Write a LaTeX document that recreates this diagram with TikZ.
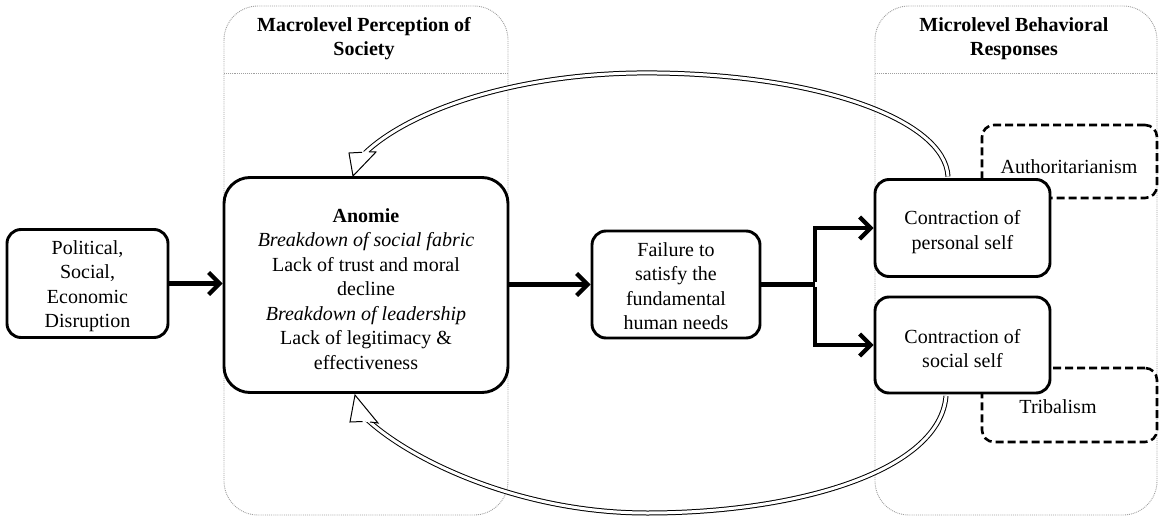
\documentclass[tikz,border=0pt]{standalone}
\usepackage{fontspec}
\setmainfont{Liberation Serif}
\usetikzlibrary{arrows.meta}
\begin{document}
\begin{tikzpicture}[x=1pt,y=-1pt,
  txt/.style={font=\fontsize{20}{24.5}\selectfont, align=center, inner sep=0pt},
  ttl/.style={font=\fontsize{20}{24}\selectfont\bfseries, align=center, inner sep=0pt},
  box/.style={draw, line width=2.9pt, fill=white, rounded corners=14pt, txt},
  dbox/.style={draw, line width=2.6pt, dash pattern=on 8pt off 4pt, rounded corners=12pt},
  panel/.style={draw=gray!75, line width=0.9pt, densely dotted, rounded corners=34pt},
  sep/.style={draw=gray!75, line width=0.9pt, densely dotted},
  flow/.style={line width=4.6pt, -{Straight Barb[length=11pt,width=22pt,line width=4.2pt]}},
  fline/.style={line width=4.6pt},
  fb/.style={draw, line width=1pt, double=white, double distance=3pt},
  fbhead/.style={draw, line width=1pt, line join=miter},
]
\useasboundingbox (0,0) rectangle (1165,519);

% panels
\draw[panel] (224,6) rectangle (508,515);
\draw[sep] (224,73) -- (508,73);
\draw[panel] (875,6) rectangle (1157,515);
\draw[sep] (875,73) -- (1157,73);
\node[ttl] (ttlL) at (364,39) {Macrolevel Perception of\\Society};
\node[ttl] (ttlR) at (1014,39) {Microlevel Behavioral\\Responses};

% dashed boxes
\node[dbox, minimum width=175pt, minimum height=73pt] (auth) at (1069.5,161.5) {};
\node[txt] (autht) at (1069,167) {Authoritarianism};
\node[dbox, minimum width=175pt, minimum height=74pt] (trib) at (1069.5,405) {};
\node[txt] (tribt) at (1058,407) {Tribalism};

% main boxes
\node[box, minimum width=161pt, minimum height=108pt] (pol) at (87.5,283.5) {};
\node[txt] (polt) at (87.5,286) {Political,\\Social,\\Economic\\Disruption};
\node[box, rounded corners=26pt, minimum width=284pt, minimum height=215pt] (an) at (366,285) {};
\node[txt] (ant) at (366,289) {\textbf{Anomie}\\\textit{Breakdown of social fabric}\\Lack of trust and moral\\decline\\\textit{Breakdown of leadership}\\Lack of legitimacy \&\\effectiveness};
\node[box, minimum width=168pt, minimum height=107pt] (fail) at (676,284.5) {};
\node[txt] (failt) at (676,286) {Failure to\\satisfy the\\fundamental\\human needs};
\node[box, minimum width=175pt, minimum height=97pt] (cp) at (962.5,228) {};
\node[txt] (cpt) at (962.5,232) {Contraction of\\personal self};
\node[box, minimum width=175pt, minimum height=96pt] (cs) at (962.5,345) {};
\node[txt] (cst) at (962.5,348.5) {Contraction of\\social self};

% flow arrows
\draw[flow] (pol.east) -- (pol.east -| an.west);
\draw[flow] (an.east |- fail.west) -- (fail.west);
\coordinate (split) at (815,284.5);
\draw[fline] (fail.east) -- (split);
\draw[flow] ([yshift=2.3pt]split) |- (cp.west);
\draw[flow] ([yshift=-2.3pt]split) |- (cs.west);

% feedback arrows (top)
\coordinate (topapex) at (657,73);
\coordinate (topend) at (365,153);
\draw[fb] ([xshift=-14.5pt,yshift=1.5pt]cp.north) .. controls (945,120) and (820,75) .. (topapex)
  .. controls (520,71) and (410,110) .. (topend);
\fill[white] (362,152.3) -- (349,153) -- (353,176) -- (376,152) -- (369,151.8) -- cycle;
\draw[fbhead] (362,152.3) -- (349,153) -- (353,176) -- (376,152) -- (369,151.8);

% feedback arrows (bottom)
\coordinate (botapex) at (647,513);
\coordinate (botend) at (366,418.5);
\draw[fb] ([xshift=-16.5pt,yshift=-1.5pt]cs.south) .. controls (940,470) and (800,513) .. (botapex)
  .. controls (520,513) and (410,460) .. (botend);
\fill[white] (362.5,421.5) -- (350,422) -- (355,395) -- (378,423) -- (370,422) -- cycle;
\draw[fbhead] (362.5,421.5) -- (350,422) -- (355,395) -- (378,423) -- (370,422);
\end{tikzpicture}
\end{document}
